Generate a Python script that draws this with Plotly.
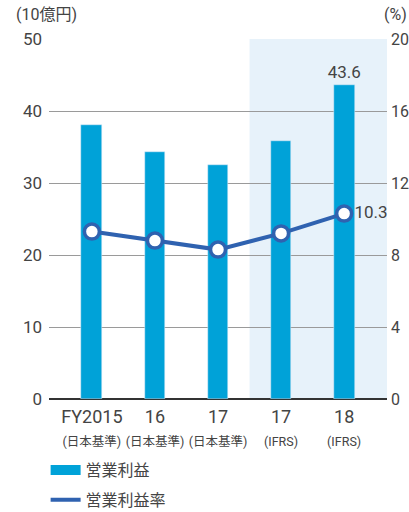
import plotly.graph_objects as go

years = ["FY2015", "16", "17", "17", "18"]
standards = ["(日本基準)", "(日本基準)", "(日本基準)", "(IFRS)", "(IFRS)"]
operating_profit = [38.1, 34.3, 32.5, 35.8, 43.6]
operating_margin = [9.3, 8.8, 8.3, 9.2, 10.3]
left_ticks = [0, 10, 20, 30, 40, 50]
right_ticks = [0, 4, 8, 12, 16, 20]

xs = list(range(len(years)))
ticktext = [f"{y}<br><span style='font-size:12.5px'>{s}</span>" for y, s in zip(years, standards)]

BAR = "#00a2d8"
LINE = "#2f62b0"
TXT = "#444444"
FONT = "Roboto, Noto Sans CJK JP"

fig = go.Figure()
fig.add_trace(go.Bar(
    x=xs, y=operating_profit, name="営業利益", marker_color=BAR, width=0.33,
    text=["", "", "", "", f"{operating_profit[-1]}"], textposition="outside",
    textfont=dict(size=17, color=TXT), cliponaxis=False, constraintext="none",
    showlegend=False,
))
fig.add_trace(go.Scatter(
    x=xs, y=operating_margin, yaxis="y2", mode="lines+markers+text",
    line=dict(color=LINE, width=4),
    marker=dict(size=15, color="white", line=dict(color=LINE, width=3.5)),
    text=["", "", "", "", f"{operating_margin[-1]}"], textposition="middle right",
    textfont=dict(size=17, color=TXT), showlegend=False, cliponaxis=False,
))
# legend entries
fig.add_trace(go.Scatter(
    x=[None], y=[None], mode="lines", name="営業利益", legendgroup="a",
    line=dict(color=BAR, width=12),
))
fig.add_trace(go.Scatter(
    x=[None], y=[None], yaxis="y2", mode="lines", name="営業利益率", legendgroup="b",
    line=dict(color=LINE, width=4),
))

fig.add_shape(type="rect", xref="x", yref="paper", x0=2.5, x1=4.68, y0=0, y1=1,
              fillcolor="#e7f2fa", line_width=0, layer="below")

fig.update_layout(
    width=409, height=512,
    margin=dict(l=49, r=22, t=39, b=113, autoexpand=False),
    paper_bgcolor="white", plot_bgcolor="white",
    font=dict(family=FONT, color=TXT, size=16),
    bargap=0,
    xaxis=dict(tickvals=xs, ticktext=ticktext, range=[-0.68, 4.68],
               showgrid=False, zeroline=False, ticks="", tickfont=dict(size=18, color=TXT),
               showline=False, ticklabelstandoff=5),
    yaxis=dict(range=[0, 50], tickvals=left_ticks, showgrid=True, gridcolor="#9a9a9a",
               gridwidth=1, zeroline=True, zerolinecolor="#333333", zerolinewidth=1.5,
               ticks="", tickfont=dict(size=17, color=TXT), ticklabelstandoff=6),
    yaxis2=dict(range=[0, 20], tickvals=right_ticks, overlaying="y", side="right",
                showgrid=False, zeroline=False, ticks="",
                tickfont=dict(size=16, color=TXT), ticklabelstandoff=3),
    legend=dict(x=-0.01, y=-0.15, xanchor="left", yanchor="top", orientation="v",
                font=dict(size=16, color=TXT), tracegroupgap=6, itemwidth=30,
                bgcolor="rgba(0,0,0,0)"),
    annotations=[
        dict(text="(10億円)", xref="paper", yref="paper", x=-0.105, y=1.067,
             xanchor="left", yanchor="middle", showarrow=False, font=dict(size=16, color=TXT)),
        dict(text="(%)", xref="paper", yref="paper", x=1.065, y=1.067,
             xanchor="right", yanchor="middle", showarrow=False, font=dict(size=16, color=TXT)),
    ],
)

fig.write_html("out.html", config={"displayModeBar": False})
with open("out.html", encoding="utf-8") as f:
    html = f.read()
html = html.replace("<head>", "<head><style>html,body{margin:0;padding:0;overflow:hidden;}</style>", 1)
with open("out.html", "w", encoding="utf-8") as f:
    f.write(html)
